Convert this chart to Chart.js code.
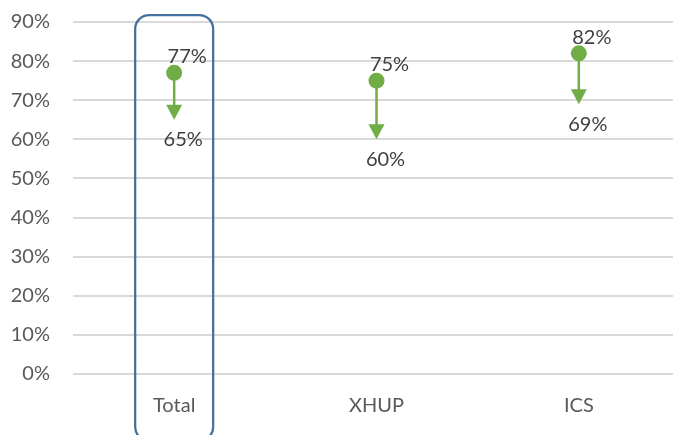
<!DOCTYPE html>
<html>
<head>
<meta charset="utf-8">
<script src="https://cdn.jsdelivr.net/npm/chart.js@4.4.0/dist/chart.umd.min.js"></script>
<style>
  html, body { margin: 0; padding: 0; background: #fff; overflow: hidden; }
  #wrap { width: 688px; height: 448px; margin-top: -13px; position: relative; }
</style>
</head>
<body>
<div id="wrap"><canvas id="myChart"></canvas></div>
<script>
const categories = ['Total', 'XHUP', 'ICS'];
const startValues = [77, 75, 82];
const endValues = [65, 60, 69];
const tickValues = [0, 10, 20, 30, 40, 50, 60, 70, 80, 90];

const green = '#70AD47';
const textColor = '#404040';
const fontFamily = 'Lato, "Open Sans", sans-serif';

// arrows from start value down to end value, plus value labels
const arrowPlugin = {
    id: 'arrows',
    beforeDatasetsDraw(chart) {
        const ctx = chart.ctx;
        const xs = chart.scales.x, ys = chart.scales.y;
        ctx.save();
        ctx.strokeStyle = green;
        ctx.fillStyle = green;
        ctx.lineWidth = 2.5;
        categories.forEach((c, i) => {
            const x = xs.getPixelForValue(i);
            const y0 = ys.getPixelForValue(startValues[i]);
            const y1 = ys.getPixelForValue(endValues[i]);
            const headH = 15, headW = 8;
            ctx.beginPath();
            ctx.moveTo(x, y0);
            ctx.lineTo(x, y1 - headH + 1);
            ctx.stroke();
            ctx.beginPath();
            ctx.moveTo(x - headW, y1 - headH);
            ctx.lineTo(x + headW, y1 - headH);
            ctx.lineTo(x, y1);
            ctx.closePath();
            ctx.fill();
        });
        ctx.restore();
    },
    afterDatasetsDraw(chart) {
        const ctx = chart.ctx;
        const xs = chart.scales.x, ys = chart.scales.y;
        ctx.save();
        ctx.fillStyle = textColor;
        ctx.font = '20px ' + fontFamily;
        ctx.textAlign = 'center';
        ctx.textBaseline = 'middle';
        categories.forEach((c, i) => {
            const x = xs.getPixelForValue(i);
            ctx.fillText(startValues[i] + '%', x + 13, ys.getPixelForValue(startValues[i]) - 16);
            ctx.fillText(endValues[i] + '%', x + 9, ys.getPixelForValue(endValues[i]) + 20);
        });

        // rounded outline around the first category
        const cx = xs.getPixelForValue(0);
        const half = 39;
        const top = ys.top - 7, bottom = chart.height + 6, r = 14;
        ctx.strokeStyle = '#41719C';
        ctx.lineWidth = 2.25;
        ctx.beginPath();
        ctx.roundRect(cx - half, top, half * 2, bottom - top, r);
        ctx.stroke();
        ctx.restore();
    }
};

new Chart(document.getElementById('myChart'), {
    type: 'line',
    data: {
        labels: categories,
        datasets: [{
            label: 'Start',
            data: startValues,
            showLine: false,
            pointRadius: 8,
            pointHoverRadius: 8,
            pointBackgroundColor: green,
            pointBorderColor: green,
            pointBorderWidth: 0
        }]
    },
    options: {
        responsive: true,
        maintainAspectRatio: false,
        animation: false,
        events: [],
        layout: { padding: { top: 10, right: 0, left: 0, bottom: 0 } },
        plugins: {
            legend: { display: false },
            tooltip: { enabled: false }
        },
        scales: {
            x: {
                offset: true,
                grid: { display: false, drawTicks: false },
                border: { display: false },
                ticks: {
                    color: '#595959',
                    font: { family: fontFamily, size: 20 },
                    padding: 20
                },
                afterFit(scale) { scale.height = 61; }
            },
            y: {
                min: 0,
                max: 90,
                afterBuildTicks(scale) {
                    scale.ticks = tickValues.map(v => ({ value: v }));
                },
                grid: { color: '#D9D9D9', lineWidth: 2, drawTicks: false },
                border: { display: false },
                ticks: {
                    color: '#595959',
                    font: { family: fontFamily, size: 20 },
                    padding: 23,
                    callback: v => v + '%'
                },
                afterFit(scale) { scale.width = 73; }
            }
        }
    },
    plugins: [arrowPlugin]
});
</script>
</body>
</html>
